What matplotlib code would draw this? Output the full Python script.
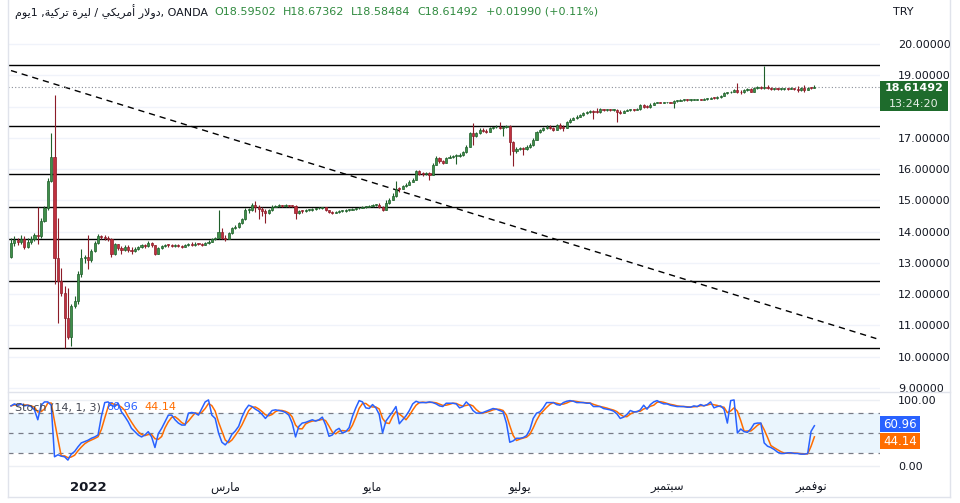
import numpy as np
import pandas as pd
import matplotlib
matplotlib.use('Agg')
import matplotlib.pyplot as plt
from matplotlib.patches import Rectangle
from matplotlib.lines import Line2D
from matplotlib.transforms import IdentityTransform

plt.rcParams['font.family'] = ['DejaVu Sans']

# daily USD/TRY candles, 1 Dec 2021 .. 2 Nov 2022 (open = previous close)
first_open = 13.19
closes = [
    13.64, 13.72, 13.66, 13.78, 13.52, 13.68, 13.75, 13.90, 13.85, 14.35,
    14.76, 15.63, 16.40, 13.16, 12.42, 12.05, 11.25, 10.62, 11.62, 11.78,
    12.63, 13.16, 13.20, 13.08, 13.38, 13.64, 13.85, 13.82, 13.80, 13.76,
    13.27, 13.59, 13.47, 13.40, 13.52, 13.42, 13.38, 13.45, 13.51, 13.56,
    13.53, 13.64, 13.56, 13.30, 13.48, 13.53, 13.58, 13.56, 13.54, 13.57,
    13.55, 13.52, 13.58, 13.60, 13.57, 13.62, 13.60, 13.58, 13.64, 13.68,
    13.75, 13.80, 13.98, 13.80, 13.78, 13.95, 14.12, 14.15, 14.28, 14.41,
    14.68, 14.70, 14.86, 14.80, 14.72, 14.66, 14.60, 14.68, 14.80, 14.83,
    14.84, 14.82, 14.84, 14.83, 14.82, 14.58, 14.66, 14.65, 14.68, 14.70,
    14.72, 14.74, 14.76, 14.78, 14.68, 14.62, 14.60, 14.63, 14.65, 14.66,
    14.68, 14.70, 14.72, 14.74, 14.76, 14.78, 14.80, 14.82, 14.84, 14.86,
    14.80, 14.70, 14.90, 15.02, 15.15, 15.37, 15.36, 15.45, 15.50, 15.60,
    15.66, 15.93, 15.85, 15.83, 15.87, 15.82, 16.14, 16.37, 16.25, 16.20,
    16.37, 16.40, 16.42, 16.43, 16.45, 16.54, 16.72, 17.15, 17.06, 17.14,
    17.26, 17.23, 17.20, 17.30, 17.33, 17.36, 17.30, 17.34, 17.37, 16.88,
    16.57, 16.65, 16.68, 16.64, 16.72, 16.78, 16.94, 17.18, 17.25, 17.30,
    17.36, 17.32, 17.26, 17.42, 17.32, 17.30, 17.50, 17.58, 17.62, 17.68,
    17.72, 17.78, 17.82, 17.86, 17.84, 17.82, 17.91, 17.89, 17.90, 17.88,
    17.89, 17.83, 17.80, 17.86, 17.88, 17.90, 17.89, 17.91, 18.05, 17.99,
    17.98, 18.06, 18.12, 18.13, 18.12, 18.13, 18.14, 18.12, 18.18, 18.19,
    18.20, 18.21, 18.20, 18.21, 18.22, 18.23, 18.22, 18.24, 18.25, 18.27,
    18.26, 18.30, 18.35, 18.42, 18.45, 18.48, 18.52, 18.48, 18.45, 18.52,
    18.56, 18.48, 18.58, 18.63, 18.60, 18.62, 18.58, 18.56, 18.57, 18.55,
    18.56, 18.57, 18.56, 18.58, 18.57, 18.52, 18.58, 18.54, 18.60, 18.59502,
    18.61492,
]
highs = [
    13.80, 13.85, 13.80, 13.88, 13.85, 13.80, 13.85, 13.95, 14.80, 14.45,
    14.82, 15.72, 17.15, 18.37, 14.44, 12.84, 12.26, 12.21, 11.70, 11.95,
    12.75, 13.43, 13.25, 13.90, 13.45, 13.70, 13.92, 13.90, 13.88, 13.85,
    13.80, 13.65, 13.60, 13.55, 13.56, 13.58, 13.50, 13.52, 13.55, 13.60,
    13.62, 13.70, 13.68, 13.58, 13.52, 13.58, 13.62, 13.62, 13.60, 13.60,
    13.60, 13.58, 13.62, 13.64, 13.66, 13.66, 13.65, 13.64, 13.68, 13.72,
    13.80, 13.84, 14.68, 14.10, 13.90, 14.00, 14.15, 14.20, 14.32, 14.45,
    14.75, 14.76, 14.92, 14.97, 14.86, 14.80, 14.72, 14.72, 14.84, 14.86,
    14.87, 14.86, 14.87, 14.86, 14.85, 14.84, 14.70, 14.70, 14.72, 14.73,
    14.75, 14.77, 14.79, 14.80, 14.80, 14.70, 14.66, 14.67, 14.68, 14.70,
    14.71, 14.73, 14.75, 14.77, 14.79, 14.81, 14.83, 14.85, 14.87, 14.89,
    14.92, 14.82, 15.00, 15.06, 15.22, 15.61, 15.44, 15.50, 15.55, 15.64,
    15.72, 15.98, 15.96, 15.90, 15.90, 15.90, 16.18, 16.42, 16.40, 16.30,
    16.40, 16.44, 16.46, 16.48, 16.50, 16.58, 16.76, 17.20, 17.47, 17.18,
    17.30, 17.30, 17.28, 17.34, 17.36, 17.40, 17.52, 17.37, 17.40, 17.40,
    16.90, 16.70, 16.72, 16.72, 16.76, 16.82, 16.98, 17.22, 17.28, 17.34,
    17.40, 17.40, 17.34, 17.45, 17.46, 17.40, 17.53, 17.62, 17.66, 17.72,
    17.76, 17.82, 17.86, 17.90, 17.90, 17.94, 17.94, 17.93, 17.93, 17.92,
    17.92, 17.92, 17.88, 17.90, 17.91, 17.93, 17.92, 17.94, 18.08, 18.08,
    18.06, 18.10, 18.15, 18.15, 18.15, 18.16, 18.16, 18.15, 18.21, 18.22,
    18.23, 18.23, 18.23, 18.24, 18.25, 18.25, 18.25, 18.27, 18.28, 18.30,
    18.29, 18.33, 18.37, 18.45, 18.48, 18.51, 18.55, 18.76, 18.52, 18.55,
    18.59, 18.58, 18.63, 18.67, 18.65, 19.29, 18.70, 18.62, 18.60, 18.59,
    18.59, 18.60, 18.59, 18.61, 18.60, 18.67, 18.62, 18.68, 18.63, 18.64,
    18.67362,
]
lows = [
    13.15, 13.55, 13.58, 13.60, 13.45, 13.48, 13.62, 13.70, 13.60, 13.80,
    14.30, 14.70, 15.60, 12.31, 11.09, 11.94, 10.29, 10.56, 10.35, 11.55,
    11.70, 12.55, 13.00, 12.79, 13.02, 13.35, 13.60, 13.75, 13.72, 13.70,
    13.20, 13.25, 13.40, 13.30, 13.38, 13.35, 13.30, 13.35, 13.42, 13.48,
    13.48, 13.50, 13.52, 13.25, 13.28, 13.45, 13.50, 13.52, 13.50, 13.52,
    13.52, 13.48, 13.50, 13.55, 13.54, 13.55, 13.56, 13.55, 13.56, 13.62,
    13.66, 13.72, 13.77, 13.75, 13.70, 13.76, 13.92, 14.08, 14.12, 14.25,
    14.38, 14.60, 14.66, 14.62, 14.39, 14.50, 14.28, 14.55, 14.65, 14.78,
    14.80, 14.79, 14.80, 14.80, 14.78, 14.41, 14.56, 14.60, 14.62, 14.65,
    14.67, 14.70, 14.72, 14.73, 14.65, 14.58, 14.56, 14.58, 14.60, 14.62,
    14.64, 14.66, 14.68, 14.70, 14.72, 14.74, 14.76, 14.78, 14.80, 14.81,
    14.77, 14.66, 14.68, 14.88, 15.00, 15.12, 15.28, 15.35, 15.42, 15.48,
    15.58, 15.64, 15.80, 15.78, 15.82, 15.66, 15.80, 16.12, 16.20, 16.15,
    16.18, 16.35, 16.36, 16.16, 16.40, 16.42, 16.52, 16.70, 16.78, 17.02,
    17.12, 17.20, 17.16, 17.18, 17.28, 17.30, 17.27, 17.05, 17.32, 16.46,
    16.09, 16.50, 16.60, 16.46, 16.62, 16.68, 16.75, 16.92, 17.15, 17.22,
    17.28, 17.28, 17.22, 17.25, 17.28, 17.22, 17.30, 17.48, 17.56, 17.60,
    17.66, 17.70, 17.76, 17.80, 17.60, 17.80, 17.80, 17.86, 17.86, 17.85,
    17.86, 17.52, 17.76, 17.78, 17.85, 17.86, 17.86, 17.88, 17.90, 17.96,
    17.95, 17.96, 18.05, 18.10, 18.10, 18.10, 18.11, 18.10, 17.95, 18.16,
    18.17, 18.18, 18.18, 18.19, 18.20, 18.20, 18.20, 18.21, 18.22, 18.24,
    18.24, 18.25, 18.28, 18.33, 18.40, 18.42, 18.46, 18.44, 18.40, 18.43,
    18.50, 18.45, 18.46, 18.56, 18.56, 18.56, 18.55, 18.54, 18.54, 18.52,
    18.53, 18.54, 18.53, 18.55, 18.54, 18.48, 18.50, 18.48, 18.52, 18.56,
    18.58484,
]
# Stoch %K (14, 1)
stoch_k = [
    91, 94, 92, 94, 91, 92, 90, 85, 70, 92,
    97, 97, 92, 14, 17, 15, 14, 9, 18, 22,
    29, 35, 37, 39, 42, 44, 47, 75, 96, 97,
    92, 90, 95, 82, 75, 67, 57, 52, 47, 44,
    47, 52, 44, 28, 49, 57, 67, 77, 77, 70,
    65, 62, 62, 80, 81, 80, 77, 87, 97, 100,
    77, 72, 50, 36, 32, 38, 48, 53, 60, 74,
    85, 92, 90, 86, 83, 78, 72, 78, 84, 85,
    84, 83, 81, 77, 65, 44, 60, 65, 66, 68,
    70, 68, 70, 74, 62, 45, 47, 54, 57, 50,
    52, 58, 75, 88, 99, 97, 88, 87, 93, 88,
    78, 50, 68, 75, 82, 90, 64, 70, 76, 84,
    94, 98, 96, 96, 96, 97, 96, 94, 91, 90,
    95, 95, 95, 94, 88, 90, 97, 92, 84, 80,
    80, 81, 83, 85, 87, 86, 84, 82, 65, 36,
    38, 42, 42, 43, 46, 55, 72, 80, 82, 88,
    96, 96, 96, 93, 92, 96, 98, 99, 98, 96,
    96, 96, 95, 95, 90, 90, 90, 87, 86, 85,
    83, 79, 72, 74, 78, 84, 82, 82, 85, 92,
    86, 93, 97, 99, 96, 94, 94, 92, 91, 90,
    90, 90, 89, 89, 91, 90, 93, 91, 93, 97,
    88, 90, 91, 86, 65, 99, 100, 50, 56, 52,
    51, 56, 64, 65, 65, 35, 30, 28, 25, 21,
    19, 19, 20, 20, 19, 19, 18, 18, 19, 52.46,
    60.96,
]

levels = [19.33, 17.38, 15.85, 14.80, 13.75, 12.42, 10.27]
trend_x = [0, 258.5]
trend_y = [19.15, 10.58]
price_ticks = list(range(9, 21))
stoch_bands = [80, 50, 20]
month_pos = [23, 64, 108, 152, 196, 239]
month_names = ['2022', 'مارس', 'مايو', 'يوليو', 'سبتمبر', 'نوفمبر']
countdown = '13:24:20'

UP, UP_EDGE = '#3f8f4a', '#1f5f2a'
DN, DN_EDGE = '#c0303e', '#8c1c28'
TXT = '#131722'
VAL = '#2f8a3e'
GRID = '#f0f3fa'

# crude arabic shaping (presentation forms, visual order) since matplotlib has no bidi
FORMS = {
    'ا': (0xFE8D, 0xFE8E, None, None), 'أ': (0xFE83, 0xFE84, None, None),
    'ب': (0xFE8F, 0xFE90, 0xFE91, 0xFE92), 'ة': (0xFE93, 0xFE94, None, None),
    'ت': (0xFE95, 0xFE96, 0xFE97, 0xFE98), 'د': (0xFEA9, 0xFEAA, None, None),
    'ر': (0xFEAD, 0xFEAE, None, None), 'س': (0xFEB1, 0xFEB2, 0xFEB3, 0xFEB4),
    'ف': (0xFED1, 0xFED2, 0xFED3, 0xFED4), 'ك': (0xFED9, 0xFEDA, 0xFEDB, 0xFEDC),
    'ل': (0xFEDD, 0xFEDE, 0xFEDF, 0xFEE0), 'م': (0xFEE1, 0xFEE2, 0xFEE3, 0xFEE4),
    'ن': (0xFEE5, 0xFEE6, 0xFEE7, 0xFEE8), 'و': (0xFEED, 0xFEEE, None, None),
    'ي': (0xFEF1, 0xFEF2, 0xFEF3, 0xFEF4),
}
LAM_ALEF = {'ا': (0xFEFB, 0xFEFC), 'أ': (0xFEF7, 0xFEF8)}


def shape(word):
    out = []
    prev_joins = False
    i = 0
    while i < len(word):
        ch = word[i]
        if ch == 'ل' and i + 1 < len(word) and word[i + 1] in LAM_ALEF:
            lig = LAM_ALEF[word[i + 1]]
            out.append(chr(lig[1] if prev_joins else lig[0]))
            prev_joins = False
            i += 2
            continue
        f = FORMS[ch]
        dual = f[2] is not None
        nxt = i + 1 < len(word) and word[i + 1] in FORMS
        if prev_joins and dual and nxt:
            g = f[3]
        elif prev_joins:
            g = f[1]
        elif dual and nxt:
            g = f[2]
        else:
            g = f[0]
        out.append(chr(g))
        prev_joins = dual and nxt
        i += 1
    return ''.join(reversed(out))


def text_row(fig, renderer, x0, y, parts, size, gap):
    # lay texts out left to right in pixel coords, each after the previous one
    xx = x0
    for s, col, g in parts:
        t = fig.text(xx, y, s, transform=IdentityTransform(), fontsize=size,
                     color=col, va='center', ha='left', zorder=6)
        xx = t.get_window_extent(renderer).x1 + (gap if g is None else g)


c = np.array(closes)
o = np.array([first_open] + closes[:-1])
h = np.array(highs)
l = np.array(lows)
x = np.arange(len(c))
k = pd.Series(stoch_k, dtype=float)
d = k.rolling(3, min_periods=1).mean()

W, H = 960, 503
fig = plt.figure(figsize=(W / 100, H / 100), dpi=100)
renderer = fig.canvas.get_renderer()
ax = fig.add_axes([8 / W, 1 - 392 / H, 872 / W, 392 / H])
ax2 = fig.add_axes([8 / W, 1 - 470 / H, 872 / W, 78 / H])
ax2.set_zorder(2)

# price panel; the label that falls under the last-price tag is not drawn
ax.set_xlim(-0.9, 259.6)
ax.set_ylim(8.872, 21.406)
shown = [t for t in price_ticks if not (c[-1] - 0.85 < t < c[-1] + 0.2)]
ax.set_yticks(shown)
ax.set_yticklabels(['%.5f' % t for t in shown])
ax.yaxis.tick_right()
ax.tick_params(axis='y', length=0, pad=13, labelsize=8, labelcolor=TXT)
ax.set_xticks([])
ax.grid(axis='y', color=GRID, lw=1, zorder=0)
for t in price_ticks:
    if t not in shown:
        ax.axhline(t, color=GRID, lw=1, zorder=0)
for s in ax.spines.values():
    s.set_visible(False)

for lv in levels:
    ax.axhline(lv, color='black', lw=1, zorder=2)
ax.plot(trend_x, trend_y, color='black', lw=1, ls=(0, (4.5, 3.5)), zorder=2)
ax.axhline(c[-1], color='#8a8f99', lw=0.8, ls=(0, (1, 2)), zorder=2)

up = c >= o
ax.vlines(x, l, h, colors=np.where(up, UP_EDGE, DN_EDGE), lw=0.8, zorder=3)
ax.bar(x, np.maximum(np.abs(c - o), 0.03), bottom=np.minimum(o, c), width=0.64,
       color=np.where(up, UP, DN), edgecolor=np.where(up, UP_EDGE, DN_EDGE),
       linewidth=0.5, zorder=4)

title = (shape('يوم') + '1 ,' + shape('تركية') + ' ' + shape('ليرة') + ' / '
         + shape('أمريكي') + ' ' + shape('دولار') + ', OANDA')
chg = c[-1] - c[-2]
head = [(title, TXT, 6), ('O%.5f' % o[-1], VAL, None), ('H%.5f' % h[-1], VAL, None),
        ('L%.5f' % l[-1], VAL, None), ('C%.5f' % c[-1], VAL, None),
        ('%+.5f (%+.2f%%)' % (chg, chg / c[-2] * 100), VAL, None)]
text_row(fig, renderer, 15, H - 12, head, 8, 7)
fig.text(893 / W, 1 - 12 / H, 'TRY', fontsize=8, color=TXT, va='center')

# last price tag
_, yp = ax.transData.transform((0, c[-1]))
fig.add_artist(Rectangle((880, yp - 24), 68, 30, transform=IdentityTransform(),
                         fc='#1e6b2c', ec='none', zorder=3))
fig.text(914 / W, (yp - 0.5) / H, '%.5f' % c[-1], color='white', fontsize=8,
         fontweight='bold', ha='center', va='center', zorder=4)
fig.text(914 / W, (yp - 16.5) / H, countdown, color='#e8f0e8', fontsize=8,
         ha='center', va='center', zorder=4)

# cover price labels that spill into the lower pane
fig.add_artist(Rectangle((880, 0), 80, H - 392, transform=IdentityTransform(),
                         fc='white', ec='none', zorder=1))

# stochastic panel
ax2.set_xlim(ax.get_xlim())
ax2.set_ylim(-6, 112)
ax2.axhspan(20, 80, color='#2196F3', alpha=0.09, lw=0, zorder=0)
for b in stoch_bands:
    ax2.axhline(b, color='#787B86', lw=0.9, ls=(0, (4, 4)), zorder=1)
ax2.plot(x, d, color='#FF6D00', lw=1.1, zorder=3)
ax2.plot(x, k, color='#2962FF', lw=1.1, zorder=4)
ax2.set_yticks([0, 100])
ax2.set_yticklabels(['0.00', '100.00'])
ax2.yaxis.tick_right()
ax2.tick_params(axis='y', length=0, pad=13, labelsize=8, labelcolor=TXT)
ax2.grid(axis='y', color='#eceff4', lw=1, zorder=0)
ax2.set_xticks(month_pos)
ax2.set_xticklabels([month_names[0]] + [shape(m) for m in month_names[1:]])
ax2.tick_params(axis='x', length=0, pad=8, labelsize=8.5, labelcolor=TXT)
ax2.get_xticklabels()[0].set_fontweight('bold')
ax2.get_xticklabels()[0].set_fontsize(9.5)
for s in ax2.spines.values():
    s.set_visible(False)

stoch_head = [('Stoch (14, 1, 3)', '#434651', 5), ('%.2f' % k.iloc[-1], '#2962FF', 7),
              ('%.2f' % d.iloc[-1], '#FF6D00', 7)]
text_row(fig, renderer, 15, H - 407, stoch_head, 8, 7)

_, yk = ax2.transData.transform((0, k.iloc[-1]))
_, yd = ax2.transData.transform((0, d.iloc[-1]))
yk += 1.3
yd = min(yd - 4.5, yk - 16)
for yy, col, val in [(yk, '#2962FF', k.iloc[-1]), (yd, '#FF6D00', d.iloc[-1])]:
    fig.add_artist(Rectangle((880, yy - 8), 40, 16, transform=IdentityTransform(),
                             fc=col, ec='none', zorder=3))
    fig.text(900 / W, yy / H, '%.2f' % val, color='white', fontsize=8.5,
             ha='center', va='center', zorder=4)

# pane borders
for xs, ys in [([8, 950], [392, 392]), ([8, 950], [497, 497]), ([950, 950], [0, 497]),
               ([8, 8], [0, 497])]:
    fig.add_artist(Line2D([v / W for v in xs], [1 - v / H for v in ys],
                          color='#e0e3eb', lw=1, zorder=5))

fig.savefig('out.png', dpi=100)
